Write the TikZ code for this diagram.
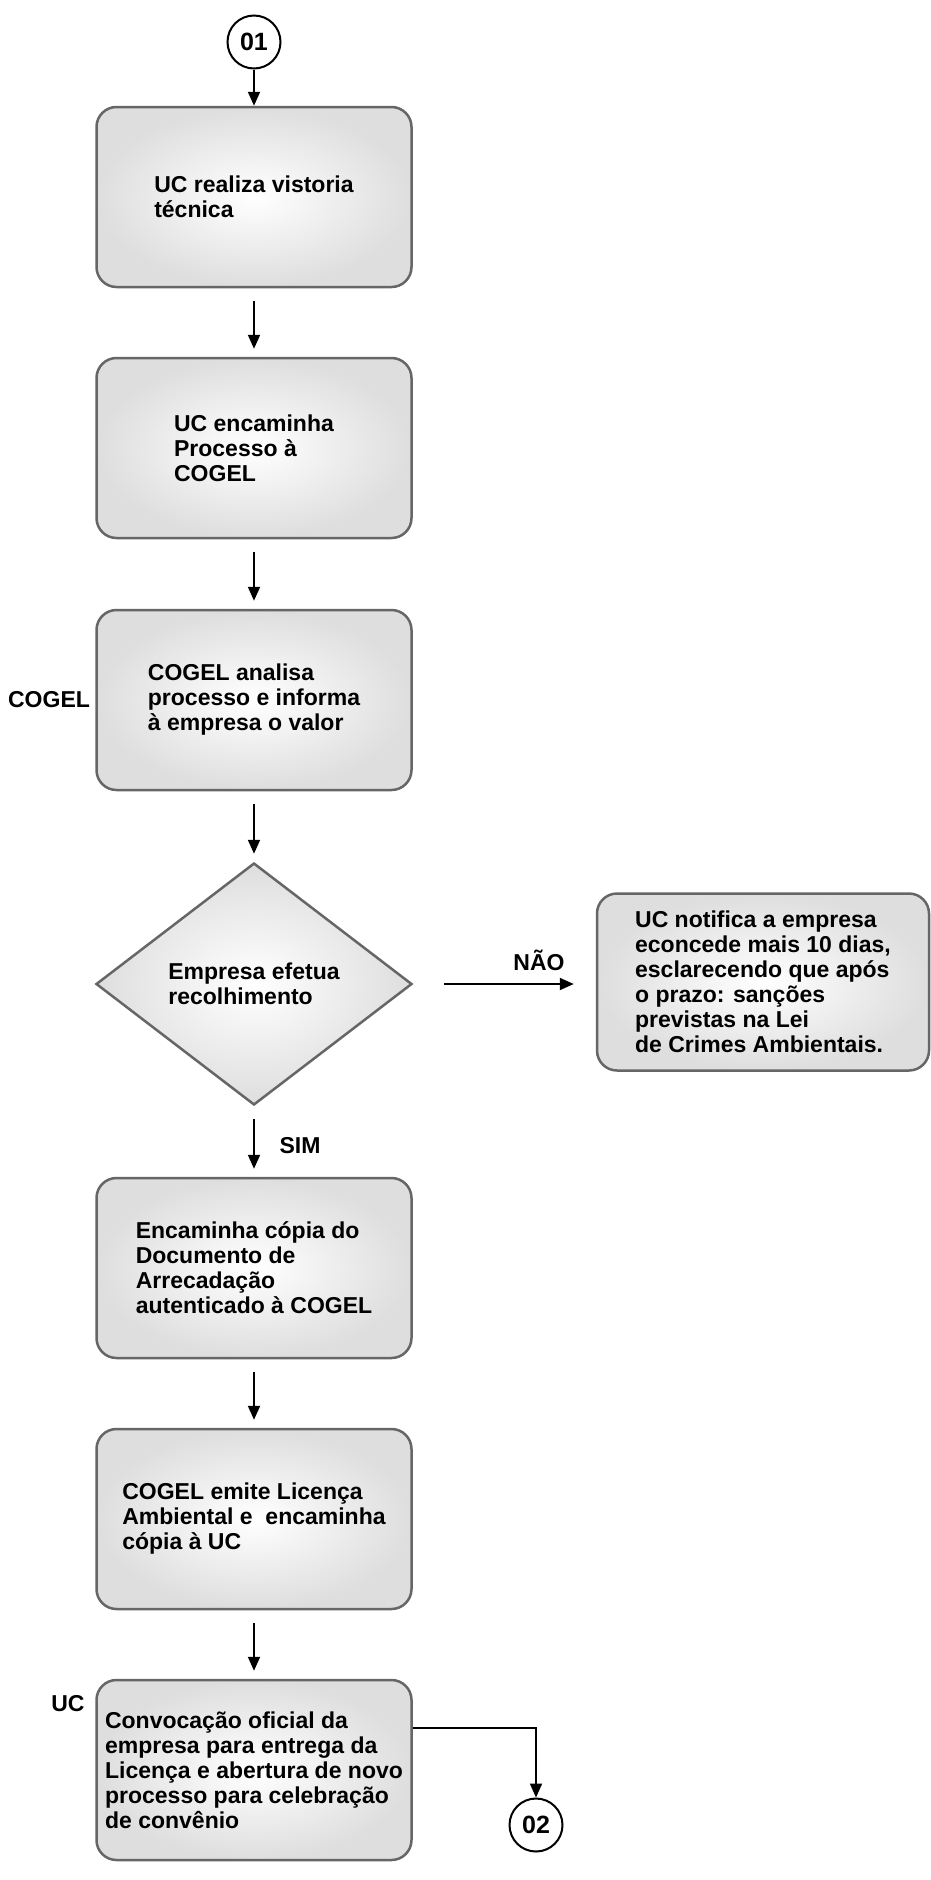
\documentclass[tikz,border=0pt]{standalone}
\usepackage{fontspec}
\setmainfont{Liberation Sans}
\usetikzlibrary{shapes.geometric,arrows.meta,positioning}

\begin{document}
\begin{tikzpicture}[x=1pt,y=-1pt,
  every node/.style={font=\fontsize{23}{25}\selectfont\bfseries},
  stepbox/.style={draw=black!60,line width=2.5pt,rounded corners=20pt,
    minimum width=315pt,minimum height=180pt,
    inner color=white,outer color=black!13,align=left},
  choice/.style={diamond,draw=black!60,line width=2.5pt,
    minimum width=316pt,minimum height=242pt,
    inner color=white,outer color=black!13,align=left},
  connector/.style={circle,draw,line width=2pt,minimum size=53pt,inner sep=0pt,
    font=\fontsize{25}{25}\selectfont\bfseries},
  flow/.style={line width=2pt,-{Triangle[length=14pt,width=12pt]}},
  gap/.style={shorten <=13pt,shorten >=8pt}]

\useasboundingbox (0,0) rectangle (930,1880);

% connectors between pages:
\node[connector] (c01) at (254,42) {01};
\node[connector] (c02) at (536,1825) {02};

% process steps:
\node[stepbox] (vistoria) at (254,197) {UC realiza vistoria\\técnica};
\node[stepbox] (encaminha) at (254,448) {UC encaminha\\Processo à\\COGEL};
\node[stepbox] (analisa) at (254,700) {COGEL analisa\\processo e informa\\à empresa o valor};
\node[choice] (recolhe) at (254,984) {Empresa efetua\\recolhimento};
\node[stepbox,minimum width=332pt,minimum height=177pt] (notifica) at (763,982)
  {UC notifica a empresa\\econcede mais 10 dias,\\esclarecendo que após\\o prazo: sanções\\previstas na Lei\\de Crimes Ambientais.};
\node[stepbox] (copia) at (254,1268) {Encaminha cópia do\\Documento de\\Arrecadação\\autenticado à COGEL};
\node[stepbox] (licenca) at (254,1519) {COGEL emite Licença\\Ambiental e~ encaminha\\cópia à UC};
\node[stepbox] (convoca) at (254,1770) {Convocação oficial da\\empresa para entrega da\\Licença e abertura de novo\\processo para celebração\\de convênio};

% side labels:
\node (lcogel) at (49,700) {COGEL};
\node (luc) at (68,1704) {UC};
\node (lsim) at (300,1146) {SIM};
\node (lnao) at (539,960) {NÃO};

% arrows:
\draw[flow] (c01) -- (vistoria);
\draw[flow,gap] (vistoria) -- (encaminha);
\draw[flow,gap] (encaminha) -- (analisa);
\draw[flow,gap] (analisa) -- (recolhe);
\draw[flow,gap] (recolhe) -- (copia);
\draw[flow,shorten <=31pt,shorten >=22pt] (recolhe.east) -- (notifica.west |- recolhe.east);
\draw[flow,gap] (copia) -- (licenca);
\draw[flow,gap] (licenca) -- (convoca);
\draw[flow] ([yshift=42pt]convoca.east) -| (c02);

\end{tikzpicture}
\end{document}
